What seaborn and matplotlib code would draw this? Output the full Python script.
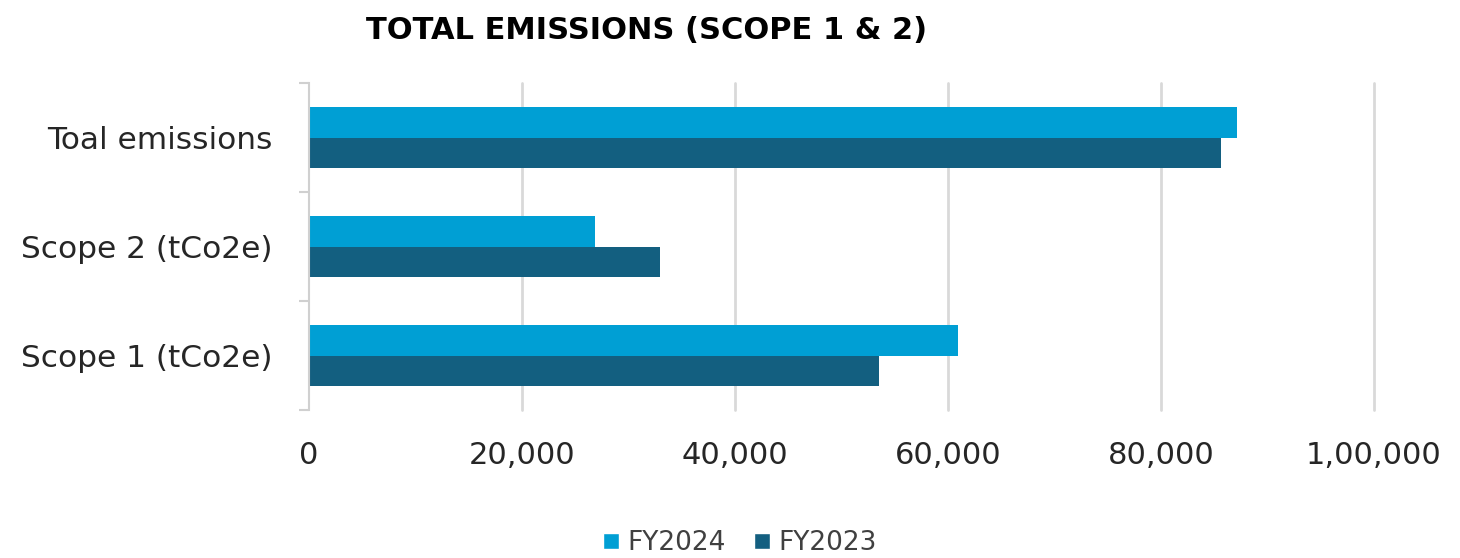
import pandas as pd
import seaborn as sns
import matplotlib.pyplot as plt
from matplotlib.lines import Line2D

categories = ["Toal emissions", "Scope 2 (tCo2e)", "Scope 1 (tCo2e)"]
fy2024 = [87100, 26850, 60900]
fy2023 = [85600, 32950, 53550]
years = ["FY2024", "FY2023"]
colors = ["#009FD4", "#135F80"]
xticks = [0, 20000, 40000, 60000, 80000, 100000]
xtick_labels = ["0", "20,000", "40,000", "60,000", "80,000", "1,00,000"]

df = pd.DataFrame({
    "category": categories * 2,
    "value": fy2024 + fy2023,
    "year": [years[0]] * 3 + [years[1]] * 3,
})

sns.set_style("white")
plt.rcParams["font.family"] = ["DejaVu Sans"]

fig = plt.figure(figsize=(14.6, 5.58), dpi=100)
ax = fig.add_axes([0.2116, 0.265, 0.7295, 0.586])

sns.barplot(data=df, x="value", y="category", hue="year", order=categories,
            hue_order=years, palette=colors, orient="h", width=0.56,
            gap=0, saturation=1, legend=False, linewidth=0, ax=ax)

ax.set_xlim(0, 100000)
ax.set_ylim(2.5, -0.5)
ax.set_xticks(xticks)
ax.set_xticklabels(xtick_labels)
ax.set_xlabel("")
ax.set_ylabel("")

# gridlines
for v in xticks[1:]:
    ax.axvline(v, color="#d9d9d9", lw=2, zorder=0, clip_on=False)

for s in ["top", "right", "bottom"]:
    ax.spines[s].set_visible(False)
ax.spines["left"].set_color("#d0d0d0")
ax.spines["left"].set_linewidth(1.5)

# y ticks at category boundaries
ax.set_yticks([-0.5, 0.5, 1.5, 2.5], minor=True)
ax.tick_params(axis="y", which="minor", length=7, width=1.5, color="#d0d0d0", left=True)
ax.tick_params(axis="y", which="major", length=0, pad=26, labelsize=22.5, labelcolor="#262626")
ax.tick_params(axis="x", length=0, pad=22, labelsize=22, labelcolor="#262626")

fig.text(0.443, 0.945, "TOTAL EMISSIONS (SCOPE 1 & 2)", ha="center", va="center",
         fontsize=22, fontweight="bold", color="black")

handles = [Line2D([0], [0], marker="s", color="w", markerfacecolor=c, markersize=12, linestyle="")
           for c in colors]
fig.legend(handles, years, loc="center", bbox_to_anchor=(0.505, 0.027), ncol=2, frameon=False,
           fontsize=19, handletextpad=0.1, columnspacing=0.9, labelcolor="#404040",
           handlelength=1.0)

fig.savefig("out.png", dpi=100)
